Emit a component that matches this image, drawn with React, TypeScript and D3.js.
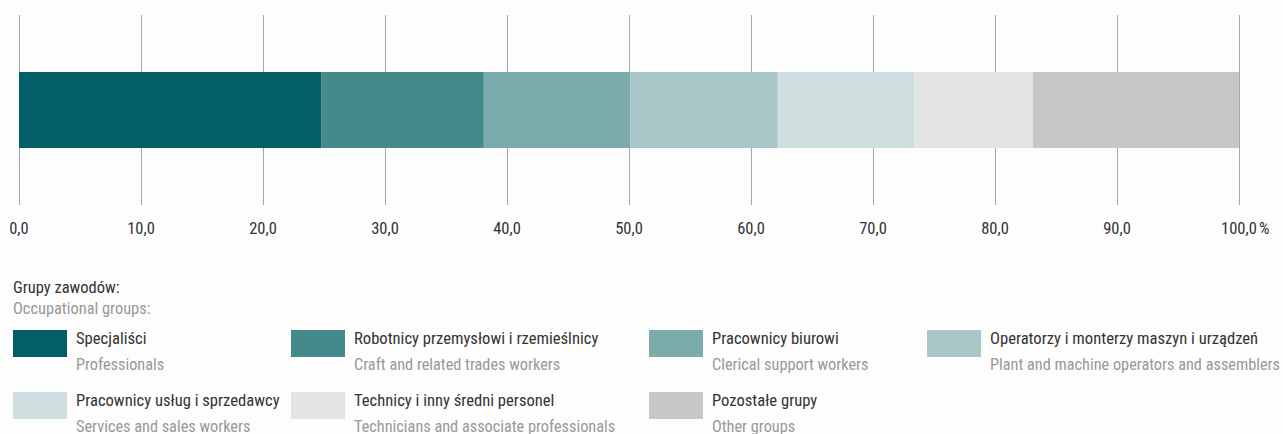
import React, { useRef, useEffect } from "react";
import * as d3 from "d3";

const groupsPl = [
    "Specjaliści",
    "Robotnicy przemysłowi i rzemieślnicy",
    "Pracownicy biurowi",
    "Operatorzy i monterzy maszyn i urządzeń",
    "Pracownicy usług i sprzedawcy",
    "Technicy i inny średni personel",
    "Pozostałe grupy",
];
const groupsEn = [
    "Professionals",
    "Craft and related trades workers",
    "Clerical support workers",
    "Plant and machine operators and assemblers",
    "Services and sales workers",
    "Technicians and associate professionals",
    "Other groups",
];
const shares = [24.8, 13.3, 12.0, 12.1, 11.2, 9.7, 16.9];
const colors = ["#035f67", "#448a8b", "#7babab", "#a9c7c9", "#cfdfdf", "#e3e5e4", "#c7c7c7"];
const ticks = [0, 10, 20, 30, 40, 50, 60, 70, 80, 90, 100];

const FONT = "'Liberation Sans Narrow', 'Roboto Condensed', 'DejaVu Sans Condensed', sans-serif";

const App: React.FC = () => {
    const ref = useRef<SVGSVGElement>(null);

    useEffect(() => {
        if (!ref.current) return;
        const svg = d3.select(ref.current);
        svg.selectAll("*").remove();

        const x = d3.scaleLinear().domain([0, 100]).range([19, 1239]);

        // grid lines
        svg.append("g")
            .selectAll("line")
            .data(ticks)
            .enter()
            .append("line")
            .attr("x1", d => x(d) + 0.5)
            .attr("x2", d => x(d) + 0.5)
            .attr("y1", 15)
            .attr("y2", 205)
            .attr("stroke", "#a8a8a8")
            .attr("stroke-width", 1);

        // stacked bar
        const starts = d3.cumsum([0, ...shares.slice(0, -1)]);
        svg.append("g")
            .selectAll("rect")
            .data(shares)
            .enter()
            .append("rect")
            .attr("x", (d, i) => x(starts[i]))
            .attr("width", (d, i) => x(starts[i] + d) - x(starts[i]))
            .attr("y", 72)
            .attr("height", 76)
            .attr("fill", (d, i) => colors[i]);

        // tick labels
        const fmt = (v: number) => v.toFixed(1).replace(".", ",");
        svg.append("g")
            .selectAll("text")
            .data(ticks)
            .enter()
            .append("text")
            .attr("x", d => x(d))
            .attr("y", 234)
            .attr("text-anchor", "middle")
            .style("font-family", FONT)
            .style("font-size", "16.5px")
            .style("fill", "#333")
            .text(d => fmt(d));
        svg.append("text")
            .attr("x", x(100) + 20)
            .attr("y", 234)
            .style("font-family", FONT)
            .style("font-size", "16.5px")
            .style("fill", "#333")
            .text("%");

        // legend title
        svg.append("text")
            .attr("x", 13).attr("y", 293)
            .style("font-family", FONT).style("font-size", "16.5px").style("fill", "#333")
            .text("Grupy zawodów:");
        svg.append("text")
            .attr("x", 13).attr("y", 314)
            .style("font-family", FONT).style("font-size", "16.4px").style("fill", "#999")
            .text("Occupational groups:");

        const colX = [13, 291, 649, 927];
        const rowY = [330, 392];
        const items = svg.append("g")
            .selectAll("g")
            .data(groupsPl)
            .enter()
            .append("g")
            .attr("transform", (d, i) => `translate(${colX[i % 4]},${rowY[Math.floor(i / 4)]})`);

        items.append("rect")
            .attr("width", 54)
            .attr("height", 27)
            .attr("fill", (d, i) => colors[i]);
        items.append("text")
            .attr("x", 63).attr("y", 14)
            .style("font-family", FONT).style("font-size", "16.6px").style("fill", "#333")
            .text(d => d);
        items.append("text")
            .attr("x", 63).attr("y", 40)
            .style("font-family", FONT).style("font-size", "16.3px").style("fill", "#999")
            .text((d, i) => groupsEn[i]);
    }, []);

    return (
        <svg
            ref={ref}
            width={1283}
            height={434}
            style={{ position: "absolute", left: 0, top: 0, background: "#fdfdfd" }}
        />
    );
};

export default App;
